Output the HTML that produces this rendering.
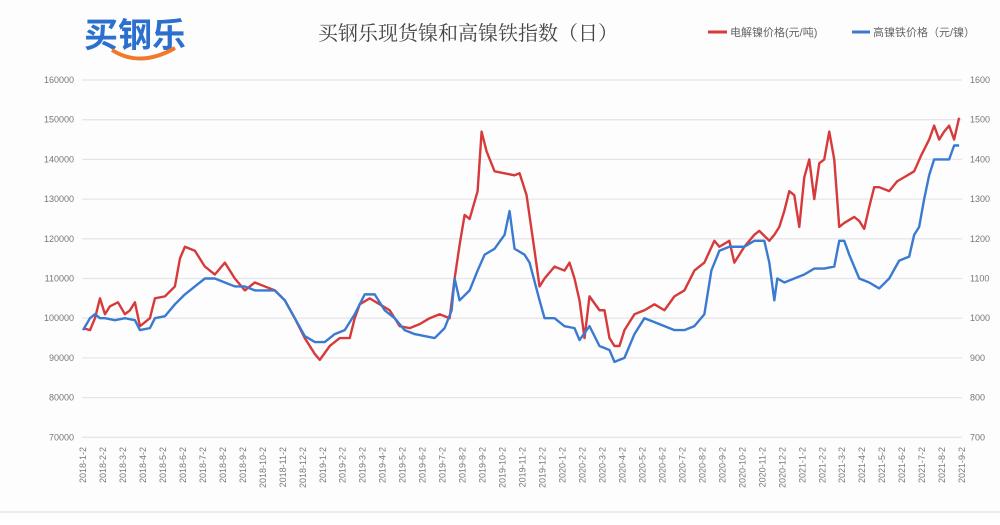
<!DOCTYPE html>
<html><head><meta charset="utf-8"><style>
body{margin:0;background:#fff;width:1000px;height:520px;overflow:hidden;font-family:"Liberation Sans","Noto Sans CJK SC",sans-serif}
</style></head><body>
<svg id="chart" width="1000" height="520" xmlns="http://www.w3.org/2000/svg">
<rect x="0" y="0" width="1000" height="520" fill="#fdfdfe"/>
<g>
<text x="84" y="47" font-size="34" font-weight="bold" fill="#2b6fcf" font-family="'Noto Sans CJK SC',sans-serif">买钢乐</text>
<path d="M112 50 Q140 68 175 48" stroke="#f07a2a" stroke-width="4" fill="none"/>
</g>
<text x="318" y="40" font-size="20" fill="#444" font-family="'Noto Serif CJK SC',serif">买钢乐现货镍和高镍铁指数（日）</text>
<g>
<line x1="708" y1="32" x2="727" y2="32" stroke="#d63a3a" stroke-width="3"/>
<text x="730" y="36" font-size="11" fill="#666">电解镍价格(元/吨)</text>
<line x1="852" y1="32" x2="870" y2="32" stroke="#3a7ad0" stroke-width="3"/>
<text x="873" y="36" font-size="11" fill="#666">高镍铁价格（元/镍）</text>
</g>
<g id="grid"></g><g id="xl"></g><g id="series"></g>
<line x1="0" y1="512" x2="1000" y2="512" stroke="#ddd"/>
</svg>
<script>
const leftTicks=[160000,150000,140000,130000,120000,110000,100000,90000,80000,70000];
const rightTicks=[1600,1500,1400,1300,1200,1100,1000,900,800,700];
const monthLabels=[];
for(let y=2018;y<=2021;y++)for(let m=1;m<=12;m++){if(y===2021&&m>9)break;monthLabels.push(y+'-'+m+'-2');}
const redSeries=[[0,97.5],[.35,97],[.6,100],[.85,105],[1.1,101],[1.35,103],[1.75,104],[2.1,101],[2.35,102],[2.6,104],[2.85,98],[3.35,100],[3.6,105],[4.1,105.5],[4.6,108],[4.85,115],[5.1,118],[5.6,117],[6.1,113],[6.6,111],[7.1,114],[7.6,110],[8.1,107],[8.6,109],[9.1,108],[9.6,107],[10.1,104.5],[10.6,100],[11.1,95],[11.6,91],[11.85,89.5],[12.35,93],[12.85,95],[13.35,95],[13.6,100],[13.85,103.5],[14.35,105],[14.85,103.5],[15.35,102],[15.85,98],[16.35,97.5],[16.85,98.5],[17.35,100],[17.85,101],[18.35,100],[18.6,110],[18.85,118.5],[19.1,126],[19.35,125],[19.75,132],[19.95,147],[20.2,142],[20.6,137],[21.1,136.5],[21.6,136],[21.85,136.5],[22.2,131],[22.6,117],[22.85,108],[23.1,110],[23.6,113],[24.1,112],[24.35,114],[24.6,110],[24.85,104.5],[25.1,95],[25.35,105.5],[25.85,102],[26.1,102],[26.35,95],[26.6,93],[26.85,93],[27.1,97],[27.6,101],[28.1,102],[28.6,103.5],[29.1,102],[29.6,105.5],[30.1,107],[30.6,112],[31.1,114],[31.6,119.5],[31.85,118],[32.35,119.5],[32.6,114],[33.1,118],[33.6,121],[33.85,122],[34.35,119.5],[34.6,121],[34.85,123],[35.1,127],[35.35,132],[35.6,131],[35.85,123],[36.1,135.5],[36.35,140],[36.6,130],[36.85,139],[37.1,140],[37.35,147],[37.6,140],[37.85,123],[38.1,124],[38.6,125.5],[38.85,124.5],[39.1,122.5],[39.35,128],[39.6,133],[39.85,133],[40.35,132],[40.75,134.5],[41.1,135.5],[41.6,137],[41.95,141],[42.35,145],[42.6,148.5],[42.85,145],[43.1,147],[43.35,148.5],[43.6,145],[43.85,150.5]];
const blueSeries=[[0,970],[.35,1000],[.6,1010],[.85,1000],[1.1,1000],[1.6,995],[2.1,1000],[2.6,995],[2.85,970],[3.35,975],[3.6,1000],[4.1,1005],[4.6,1035],[5.1,1060],[5.6,1080],[6.1,1100],[6.6,1100],[7.1,1090],[7.6,1080],[8.1,1080],[8.6,1070],[9.1,1070],[9.6,1070],[10.1,1045],[10.6,1000],[11.1,955],[11.6,940],[12.1,940],[12.6,960],[13.1,970],[13.6,1010],[14.1,1060],[14.6,1060],[15.1,1020],[15.6,1000],[16.1,970],[16.6,960],[17.1,955],[17.6,950],[18.1,975],[18.45,1020],[18.6,1100],[18.85,1045],[19.35,1070],[19.75,1120],[20.1,1160],[20.6,1175],[21.1,1210],[21.35,1270],[21.6,1175],[22.1,1160],[22.35,1140],[22.85,1045],[23.1,1000],[23.6,1000],[24.1,980],[24.6,975],[24.85,945],[25.35,980],[25.85,930],[26.35,920],[26.6,890],[27.1,900],[27.6,960],[28.1,1000],[28.6,990],[29.1,980],[29.6,970],[30.1,970],[30.6,980],[31.1,1010],[31.45,1120],[31.85,1170],[32.35,1180],[33.1,1180],[33.6,1195],[34.1,1195],[34.35,1140],[34.6,1045],[34.75,1100],[35.1,1090],[35.6,1100],[36.1,1110],[36.6,1125],[37.1,1125],[37.6,1130],[37.85,1195],[38.1,1195],[38.35,1160],[38.85,1100],[39.35,1090],[39.85,1075],[40.35,1100],[40.85,1145],[41.35,1155],[41.6,1210],[41.85,1230],[42.1,1300],[42.35,1360],[42.6,1400],[43.1,1400],[43.35,1400],[43.6,1435],[43.85,1435]];
const X=t=>83+t*19.98;
const YL=v=>80+(160000-v)*0.00397;
const YR=v=>80+(1600-v)*0.397;
const NS='http://www.w3.org/2000/svg';
function mk(tag,attrs,parent,txt){const e=document.createElementNS(NS,tag);for(const k in attrs)e.setAttribute(k,attrs[k]);if(txt!==undefined)e.textContent=txt;parent.appendChild(e);return e;}
const grid=document.getElementById('grid');
leftTicks.forEach((v,i)=>{const y=YL(v);
 const l=mk('line',{x1:82,x2:962,y1:y,y2:y,stroke:'#e6e6ea','stroke-width':1.3},grid);
 
 
 const a=mk('text',{x:74,y:y+3,'font-size':9,fill:'#777','text-anchor':'end'},grid,String(v));
 
 
 const b=mk('text',{x:970,y:y+3,'font-size':9,fill:'#777'},grid,String(rightTicks[i]));
 
 
});
const xl=document.getElementById('xl');
monthLabels.forEach((s,i)=>{const x=X(i)+3;
 const t=mk('text',{x:x,y:447,'font-size':9,fill:'#777','text-anchor':'end',transform:`rotate(-90 ${x} 447)`},xl,s);
 
 
});
const sg=document.getElementById('series');
const rp=mk('polyline',{points:redSeries.map(p=>X(p[0])+','+YL(p[1]*1000)).join(' '),fill:'none',stroke:'#d63a3a','stroke-width':2.4,'stroke-linejoin':'round'},sg);


const bp=mk('polyline',{points:blueSeries.map(p=>X(p[0])+','+YR(p[1])).join(' '),fill:'none',stroke:'#3a7ad0','stroke-width':2.4,'stroke-linejoin':'round'},sg);


</script>
</body></html>
